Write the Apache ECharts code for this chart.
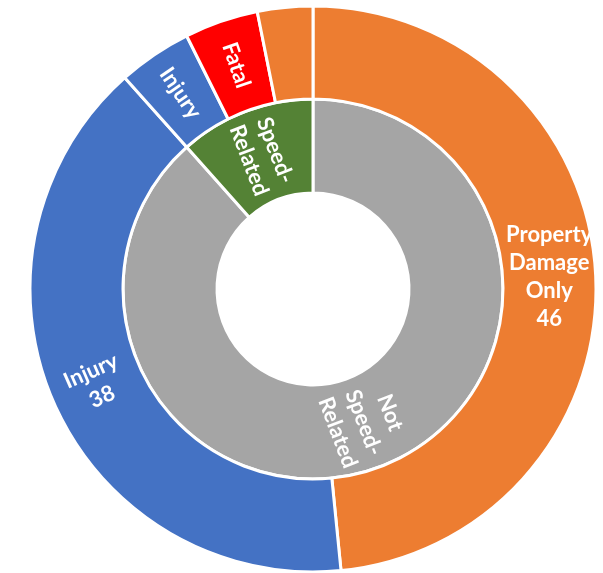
<!DOCTYPE html>
<html>
<head>
<meta charset="utf-8">
<script src="https://cdn.jsdelivr.net/npm/echarts@6/dist/echarts.min.js"></script>
<style>
html,body{margin:0;padding:0;background:#fff;}
#chart{width:603px;height:573px;}
</style>
</head>
<body>
<div id="chart"></div>
<script>
// Inner ring categories
const innerCategories = ['Not Speed-Related', 'Speed-Related'];
const innerLabels = ['Not\nSpeed-\nRelated', 'Speed-\nRelated'];
const innerColors = ['#A5A5A5', '#548235'];

// Outer ring (children of each inner category)
const outerCategories = [
  ['Property Damage Only', 'Injury'],
  ['Injury', 'Fatal', 'Property Damage Only']
];
const outerValues = [
  [46, 38],
  [4, 4, 3]
];
const outerLabels = [
  ['Property\nDamage\nOnly\n46', 'Injury\n38'],
  ['Injury', 'Fatal', '']
];
const outerColors = [
  ['#ED7D31', '#4472C4'],
  ['#4472C4', '#FF0000', '#ED7D31']
];

const FONT = 'Lato, "Open Sans", sans-serif';

const data = innerCategories.map((name, i) => ({
  name: name,
  itemStyle: { color: innerColors[i] },
  label: { formatter: innerLabels[i] },
  children: outerCategories[i].map((cn, j) => {
    const item = {
      name: cn,
      value: outerValues[i][j],
      itemStyle: { color: outerColors[i][j] },
      label: { formatter: outerLabels[i][j], show: outerLabels[i][j] !== '' }
    };
    if (i === 0 && j === 0) item.label.rotate = 0;
    return item;
  })
}));

const chart = echarts.init(document.getElementById('chart'), null, { renderer: 'canvas' });
chart.setOption({
  animation: false,
  series: [{
    type: 'sunburst',
    center: [313, 289],
    sort: null,
    startAngle: 90,
    clockwise: true,
    nodeClick: false,
    emphasis: { focus: 'none' },
    data: data,
    itemStyle: { borderColor: '#fff', borderWidth: 3 },
    label: {
      color: '#fff',
      fontFamily: FONT,
      fontWeight: 'bold',
      fontSize: 22,
      lineHeight: 28,
      align: 'center',
      verticalAlign: 'middle',
      rotate: 'radial',
      minAngle: 0
    },
    levels: [
      {},
      { r0: 96, r: 190 },
      { r0: 190, r: 283 }
    ]
  }]
});
</script>
</body>
</html>
